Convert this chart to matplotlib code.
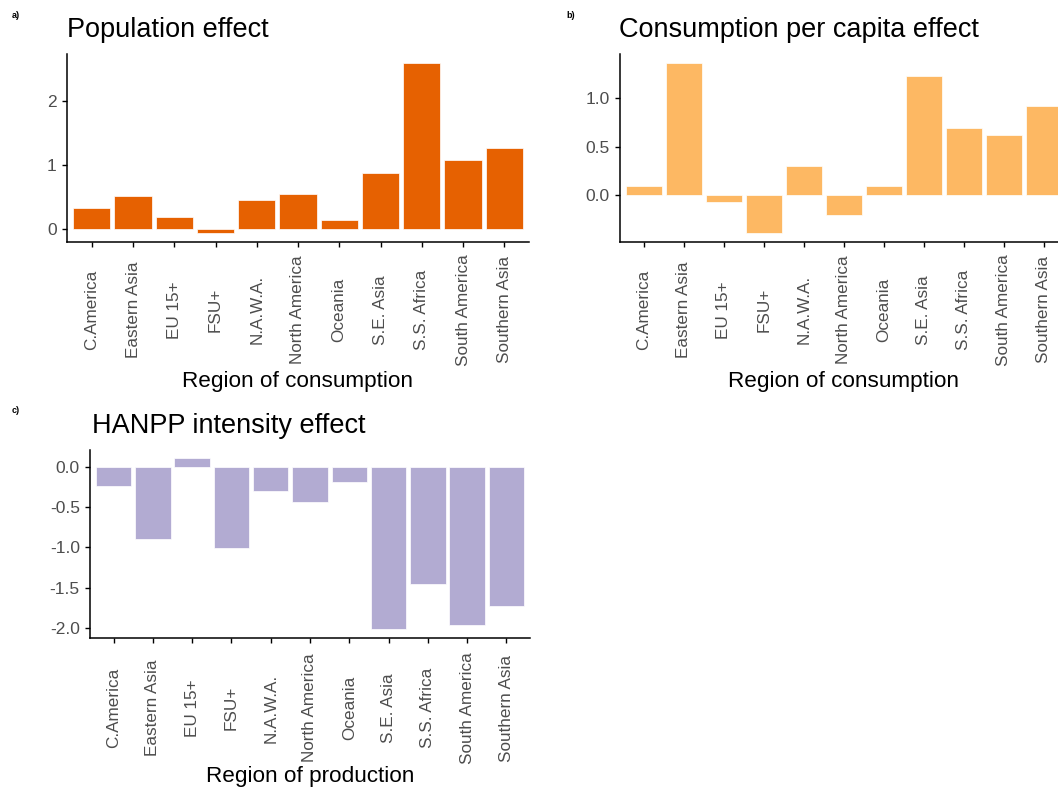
import numpy as np
import matplotlib
matplotlib.use("Agg")
import matplotlib.pyplot as plt

plt.rcParams['font.family'] = ['Liberation Sans', 'DejaVu Sans']

regions = ["C.America", "Eastern Asia", "EU 15+", "FSU+", "N.A.W.A.",
           "North America", "Oceania", "S.E. Asia", "S.S. Africa",
           "South America", "Southern Asia"]

population_effect = [0.33, 0.51, 0.19, -0.07, 0.45, 0.54, 0.14, 0.88, 2.60, 1.08, 1.27]
consumption_effect = [0.095, 1.364, -0.068, -0.39, 0.30, -0.197, 0.095, 1.228, 0.697, 0.616, 0.922]
hanpp_effect = [-0.235, -0.899, 0.107, -1.006, -0.305, -0.441, -0.19, -2.012, -1.452, -1.963, -1.732]

# PuOr brewer colours
col_pop = "#E66101"
col_cons = "#FDB863"
col_hanpp = "#B2ABD2"

W, H = 1058, 789
fig = plt.figure(figsize=(W / 100, H / 100), dpi=100)


def px_axes(left, top, right, bottom):
    return fig.add_axes([left / W, 1 - bottom / H, (right - left) / W, (bottom - top) / H])


def draw_panel(ax, values, color, yticks, yfmt):
    x = np.arange(1, len(regions) + 1)
    ax.bar(x, values, width=0.9, color=color, edgecolor="white", linewidth=0.5)
    lo, hi = min(min(values), 0), max(max(values), 0)
    pad = (hi - lo) * 0.05
    ax.set_ylim(lo - pad, hi + pad)
    ax.set_xlim(0.4, len(regions) + 0.6)
    ax.set_yticks(yticks)
    ax.set_yticklabels([yfmt.format(v) for v in yticks])
    ax.set_xticks(x)
    ax.set_xticklabels(regions, rotation=90, va="center", ha="center")
    for s in ["top", "right"]:
        ax.spines[s].set_visible(False)
    for s in ["left", "bottom"]:
        ax.spines[s].set_linewidth(1.1)
        ax.spines[s].set_color("black")
    ax.tick_params(axis="y", length=3.8, width=1, pad=3.5, labelsize=12.5, labelcolor="#4D4D4D")
    ax.tick_params(axis="x", length=3.8, width=1, pad=45, labelsize=12.3, labelcolor="#4D4D4D")


ax_a = px_axes(67, 54, 529, 242)
draw_panel(ax_a, population_effect, col_pop, [0, 1, 2], "{:.0f}")

ax_b = px_axes(620, 54, 1068, 242)
draw_panel(ax_b, consumption_effect, col_cons, [0.0, 0.5, 1.0], "{:.1f}")

ax_c = px_axes(90, 449.5, 530, 637.5)
draw_panel(ax_c, hanpp_effect, col_hanpp, [-2.0, -1.5, -1.0, -0.5, 0.0], "{:.1f}")
ax_c.tick_params(axis="x", pad=47)

# titles, axis titles and panel letters
fig.text(67 / W, 1 - 37 / H, "Population effect", fontsize=19.5, va="baseline", ha="left")
fig.text(619 / W, 1 - 37 / H, "Consumption per capita effect", fontsize=19.5, va="baseline", ha="left")
fig.text(92 / W, 1 - 433 / H, "HANPP intensity effect", fontsize=19.5, va="baseline", ha="left")

fig.text(298 / W, 1 - 387 / H, "Region of consumption", fontsize=16.2, va="baseline", ha="center")
fig.text(843 / W, 1 - 387 / H, "Region of consumption", fontsize=16.2, va="baseline", ha="center")
fig.text(310 / W, 1 - 782 / H, "Region of production", fontsize=16.2, va="baseline", ha="center")

fig.text(12 / W, 1 - 18 / H, "a)", fontsize=6.5, fontweight="bold", va="baseline")
fig.text(566 / W, 1 - 18 / H, "b)", fontsize=6.5, fontweight="bold", va="baseline")
fig.text(12 / W, 1 - 413 / H, "c)", fontsize=6.5, fontweight="bold", va="baseline")

fig.savefig("out.png", dpi=100)
